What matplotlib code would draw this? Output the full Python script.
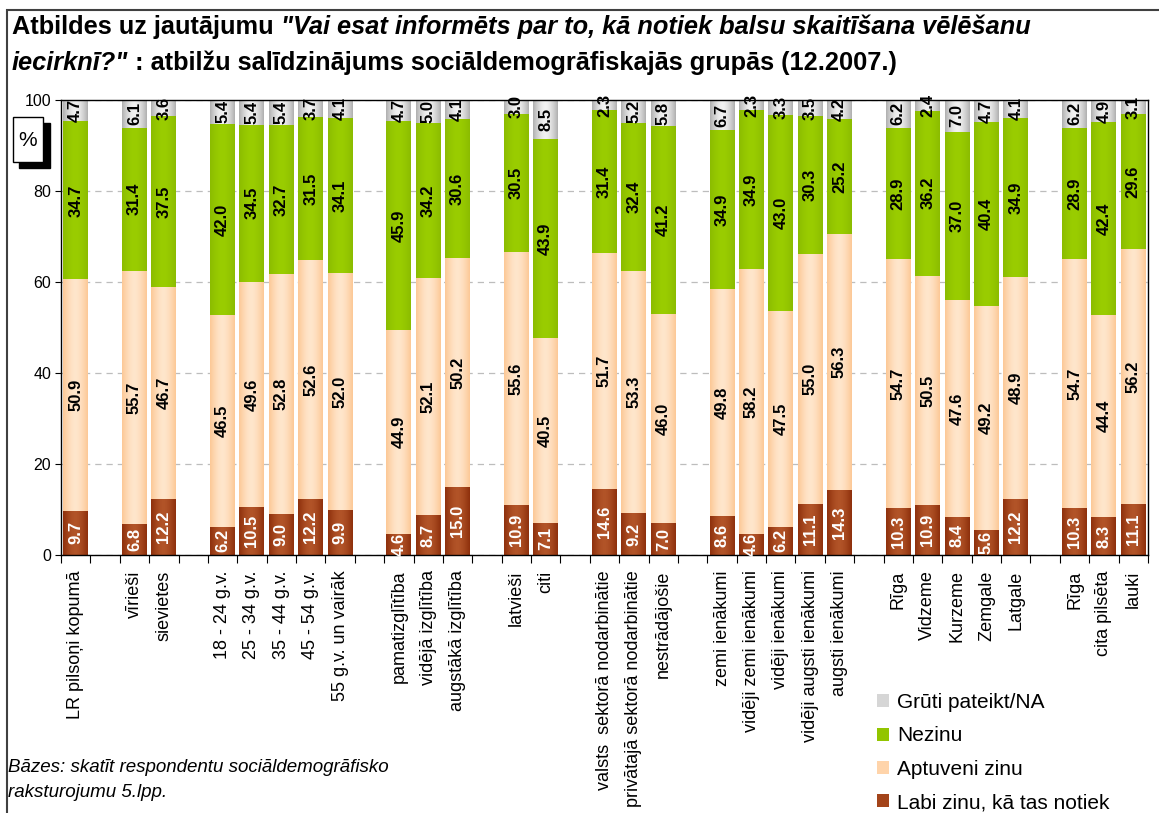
import numpy as np
import matplotlib
matplotlib.use('Agg')
import matplotlib.pyplot as plt
from matplotlib.patches import Patch, Rectangle
from matplotlib.colors import to_rgb

plt.rcParams['font.family'] = ['Liberation Sans', 'DejaVu Sans']

# data (bottom -> top of each stack)
categories = ['LR pilsoņi kopumā',
              'vīrieši', 'sievietes',
              '18 - 24 g.v.', '25 - 34 g.v.', '35 - 44 g.v.', '45 - 54 g.v.', '55 g.v. un vairāk',
              'pamatizglītība', 'vidējā izglītība', 'augstākā izglītība',
              'latvieši', 'citi',
              'valsts  sektorā nodarbinātie', 'privātajā sektorā nodarbinātie', 'nestrādājošie',
              'zemi ienākumi', 'vidēji zemi ienākumi', 'vidēji ienākumi', 'vidēji augsti ienākumi', 'augsti ienākumi',
              'Rīga', 'Vidzeme', 'Kurzeme', 'Zemgale', 'Latgale',
              'Rīga', 'cita pilsēta', 'lauki']
group_sizes = [1, 2, 5, 3, 2, 3, 5, 5, 3]

labi = [9.7, 6.8, 12.2, 6.2, 10.5, 9.0, 12.2, 9.9, 4.6, 8.7, 15.0, 10.9, 7.1,
        14.6, 9.2, 7.0, 8.6, 4.6, 6.2, 11.1, 14.3, 10.3, 10.9, 8.4, 5.6, 12.2,
        10.3, 8.3, 11.1]
aptuveni = [50.9, 55.7, 46.7, 46.5, 49.6, 52.8, 52.6, 52.0, 44.9, 52.1, 50.2, 55.6, 40.5,
            51.7, 53.3, 46.0, 49.8, 58.2, 47.5, 55.0, 56.3, 54.7, 50.5, 47.6, 49.2, 48.9,
            54.7, 44.4, 56.2]
nezinu = [34.7, 31.4, 37.5, 42.0, 34.5, 32.7, 31.5, 34.1, 45.9, 34.2, 30.6, 30.5, 43.9,
          31.4, 32.4, 41.2, 34.9, 34.9, 43.0, 30.3, 25.2, 28.9, 36.2, 37.0, 40.4, 34.9,
          28.9, 42.4, 29.6]
gruti = [4.7, 6.1, 3.6, 5.4, 5.4, 5.4, 3.7, 4.1, 4.7, 5.0, 4.1, 3.0, 8.5,
         2.3, 5.2, 5.8, 6.7, 2.3, 3.3, 3.5, 4.2, 6.2, 2.4, 7.0, 4.7, 4.1,
         6.2, 4.9, 3.1]

# name, values, edge colour, centre colour, label colour, legend colour
series = [('Labi zinu, kā tas notiek', labi, '#8E300C', '#B25428', 'white', '#A3441A'),
          ('Aptuveni zinu', aptuveni, '#FCC896', '#FFE6CC', 'black', '#FFD4AA'),
          ('Nezinu', nezinu, '#8BBC00', '#9ACD00', 'black', '#92C500'),
          ('Grūti pateikt/NA', gruti, '#B0B0B0', '#F2F2F2', 'black', '#D6D6D6')]

# x positions with one empty slot between groups
pos = []
x = 0
for g in group_sizes:
    for i in range(g):
        pos.append(x)
        x += 1
    x += 1
n_slots = x - 1

W, H = 1159, 813
fig = plt.figure(figsize=(W / 100, H / 100), dpi=100)
ax = fig.add_axes([61 / W, 1 - 555 / H, (1148 - 61) / W, (555 - 100) / H])


def grad(c_edge, c_mid):
    e = np.array(to_rgb(c_edge))
    m = np.array(to_rgb(c_mid))
    t = np.abs(np.linspace(-1, 1, 48)) ** 1.6
    return (m + (e - m) * t[:, None])[None, :, :]


bottom = np.zeros(len(categories))
for name, vals, c_edge, c_mid, tc, lc in series:
    vals = np.array(vals)
    bars = ax.bar(pos, vals, 0.85, bottom=bottom, color=c_mid, zorder=2)
    img = grad(c_edge, c_mid)
    for p in bars:
        ax.imshow(img, extent=(p.get_x(), p.get_x() + p.get_width(),
                               p.get_y(), p.get_y() + p.get_height()),
                  aspect='auto', interpolation='bilinear', zorder=2.1)
    for xp, b, v in zip(pos, bottom, vals):
        ax.text(xp, b + v / 2, f'{v:.1f}', rotation=90, ha='center', va='center',
                fontsize=12, fontweight='bold', color=tc, zorder=5, clip_on=False)
    bottom += vals

ax.set_xlim(-0.5, n_slots - 0.5)
ax.set_ylim(0, 100)
ax.set_yticks(range(0, 101, 20))
ax.tick_params(axis='y', labelsize=11.5, length=4, direction='out', pad=3)
ax.yaxis.grid(True, color='#BDBDBD', linestyle=(0, (5, 4)), linewidth=0.9)
ax.set_axisbelow(True)

ax.set_xticks(np.arange(n_slots + 1) - 0.5)
ax.set_xticklabels([])
ax.tick_params(axis='x', which='major', length=6, direction='out')
ax.set_xticks(pos, minor=True)
ax.set_xticklabels(categories, minor=True, rotation=90, va='top', ha='center', fontsize=13)
ax.tick_params(axis='x', which='minor', length=0, pad=11)
for s in ax.spines.values():
    s.set_linewidth(1.0)
    s.set_color('black')

# title with mixed styles
tfs = 18.3
t1 = fig.text(12 / W, 1 - 34 / H, 'Atbildes uz jautājumu', fontsize=tfs, fontweight='bold', va='baseline')
ax.annotate(' "Vai esat informēts par to, kā notiek balsu skaitīšana vēlēšanu',
            xy=(1, 0), xycoords=t1, va='bottom', ha='left',
            fontsize=tfs, fontweight='bold', fontstyle='italic', annotation_clip=False)
t3 = fig.text(12 / W, 1 - 70 / H, 'iecirknī?"', fontsize=tfs, fontweight='bold',
              fontstyle='italic', va='baseline')
ax.annotate(' : atbilžu salīdzinājums sociāldemogrāfiskajās grupās (12.2007.)',
            xy=(1, 0), xycoords=t3, va='bottom', ha='left',
            fontsize=tfs, fontweight='bold', annotation_clip=False)

# "%" box with shadow
fig.add_artist(Rectangle((19 / W, 1 - 168 / H), 31 / W, 45 / H, transform=fig.transFigure,
                         facecolor='black', edgecolor='black'))
fig.add_artist(Rectangle((13 / W, 1 - 162 / H), 30 / W, 45 / H, transform=fig.transFigure,
                         facecolor='white', edgecolor='black', linewidth=1))
fig.text(28 / W, 1 - 140 / H, '%', fontsize=15, ha='center', va='center')

# outer frame (left and top visible)
fig.add_artist(Rectangle((7 / W, -0.05), 1.2, 1.05 - 10 / H, transform=fig.transFigure,
                         fill=False, edgecolor='#404040', linewidth=1.5))

# legend, top entry first
handles = [Patch(facecolor=lc, edgecolor='none', label=name)
           for name, vals, c_edge, c_mid, tc, lc in series][::-1]
fig.legend(handles=handles, loc='upper left', bbox_to_anchor=(877 / W, 1 - 693 / H),
           frameon=False, fontsize=15, handlelength=0.58, handleheight=0.58,
           handletextpad=0.4, labelspacing=0.69, borderpad=0, borderaxespad=0)

# footnote
fig.text(8 / W, 1 - 767 / H, 'Bāzes: skatīt respondentu sociāldemogrāfisko',
         fontsize=13.5, fontstyle='italic', va='center')
fig.text(8 / W, 1 - 792 / H, 'raksturojumu 5.lpp.', fontsize=13.5, fontstyle='italic', va='center')

fig.savefig('out.png', dpi=100)
